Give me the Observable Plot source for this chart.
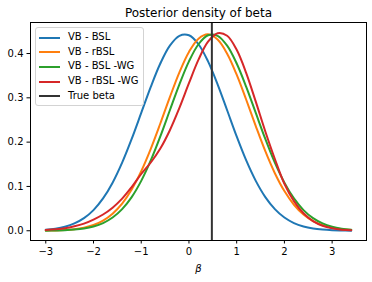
<!DOCTYPE html>
<html>
<head>
<meta charset="utf-8">
<script src="https://cdn.jsdelivr.net/npm/d3@7"></script>
<script src="https://cdn.jsdelivr.net/npm/@observablehq/plot@0.6"></script>
<style>
html,body{margin:0;padding:0;background:#fff;}
#chart{position:relative;width:372px;height:282px;overflow:hidden;font-family:"DejaVu Sans",sans-serif;}
#chart svg{display:block;}
.legend{position:absolute;left:35px;top:27px;width:109px;height:79px;box-sizing:border-box;border:1px solid #d3d3d3;border-radius:3px;background:rgba(255,255,255,0.8);font:10px "DejaVu Sans",sans-serif;color:#000;}
.swatch{position:absolute;left:3px;width:21px;height:2px;}
.lab{position:absolute;left:32px;white-space:nowrap;line-height:12px;height:12px;}
</style>
</head>
<body>
<div id="chart"></div>
<script>
// ---- data ----
const title = "Posterior density of beta";
const xLabel = "β";
const xTicks = [-3, -2, -1, 0, 1, 2, 3];
const yTicks = [0.0, 0.1, 0.2, 0.3, 0.4];
const trueBeta = 0.48;

const betaGrid = [-3.0,-2.8,-2.6,-2.4,-2.2,-2.0,-1.8,-1.6,-1.4,-1.2,-1.0,-0.8,-0.6,-0.4,-0.2,0.0,0.2,0.4,0.6,0.8,1.0,1.2,1.4,1.6,1.8,2.0,2.2,2.4,2.6,2.8,3.0,3.2,3.4];

const vbBSL = [0.0024,0.0048,0.0091,0.0165,0.0284,0.0466,0.0729,0.1085,0.1537,0.2072,0.2659,0.3248,0.3775,0.4178,0.4400,0.4411,0.4209,0.3822,0.3304,0.2719,0.2129,0.1587,0.1126,0.0760,0.0489,0.0299,0.0174,0.0097,0.0051,0.0026,0.0012,0.0006,0.0002];
const vbRBSL = [0.0004,0.0008,0.0018,0.0036,0.0071,0.0130,0.0230,0.0385,0.0613,0.0931,0.1345,0.1850,0.2421,0.3016,0.3576,0.4036,0.4335,0.4433,0.4314,0.3996,0.3523,0.2957,0.2362,0.1796,0.1299,0.0895,0.0587,0.0366,0.0217,0.0123,0.0066,0.0034,0.0017];
const vbBSLWG = [0.0002,0.0006,0.0012,0.0026,0.0051,0.0097,0.0174,0.0299,0.0489,0.0760,0.1126,0.1587,0.2129,0.2719,0.3304,0.3822,0.4209,0.4411,0.4400,0.4178,0.3775,0.3248,0.2659,0.2072,0.1537,0.1085,0.0729,0.0466,0.0284,0.0165,0.0091,0.0048,0.0024];
const vbRBSLWG = [0.0018,0.0032,0.0055,0.0100,0.0162,0.0253,0.0367,0.0521,0.0725,0.0987,0.1281,0.1540,0.1855,0.2269,0.2773,0.3330,0.3861,0.4266,0.4459,0.4402,0.4084,0.3559,0.2914,0.2241,0.1620,0.1060,0.0669,0.0395,0.0219,0.0114,0.0056,0.0025,0.0011];

const seriesNames = ["VB - BSL", "VB - rBSL", "VB - BSL -WG", "VB - rBSL -WG"];
const seriesValues = [vbBSL, vbRBSL, vbBSLWG, vbRBSLWG];
const seriesColors = ["#1f77b4", "#ff7f0e", "#2ca02c", "#d62728"];
const trueLabel = "True beta";
const trueColor = "#333333";

// ---- build table ----
const rows = [];
seriesNames.forEach((name, i) => {
  betaGrid.forEach((b, j) => rows.push({series: name, beta: b, density: seriesValues[i][j]}));
});

const fmtX = d => d < 0 ? "\u2212" + Math.abs(d) : String(d);

const svg = Plot.plot({
  width: 372,
  height: 282,
  marginLeft: 30,
  marginRight: 6,
  marginTop: 22,
  marginBottom: 42,
  style: {fontFamily: '"DejaVu Sans", sans-serif', fontSize: "10px", color: "#000", background: "#fff", overflow: "visible"},
  x: {domain: [-3.32, 3.72]},
  y: {domain: [-0.022, 0.470]},
  color: {domain: seriesNames, range: seriesColors},
  marks: [
    Plot.line(rows, {x: "beta", y: "density", z: "series", stroke: "series", strokeWidth: 2, curve: "catmull-rom"}),
    Plot.ruleX([trueBeta], {stroke: trueColor, strokeWidth: 2}),
    Plot.frame({stroke: "#000", strokeWidth: 1}),
    Plot.axisX({ticks: xTicks, tickSize: 3.5, tickPadding: 3.5, tickFormat: fmtX, label: null, fontSize: 10}),
    Plot.axisY({ticks: yTicks, tickSize: 3.5, tickPadding: 3.5, tickFormat: d3.format(".1f"), label: null, fontSize: 10}),
    Plot.text([title], {text: d => d, frameAnchor: "top", lineAnchor: "bottom", dy: -6, fontSize: 12, fill: "#000"}),
    Plot.text([xLabel], {text: d => d, frameAnchor: "bottom", lineAnchor: "middle", dy: 28, fontSize: 10, fontStyle: "italic", fill: "#000"})
  ]
});

const chart = document.getElementById("chart");
chart.appendChild(svg);

// ---- legend overlay ----
const legend = document.createElement("div");
legend.className = "legend";
const entries = seriesNames.map((n, i) => ({name: n, color: seriesColors[i]})).concat([{name: trueLabel, color: trueColor}]);
const rowCenters = [9.7, 24.3, 38.9, 53.5, 68.1];
entries.forEach((e, i) => {
  const sw = document.createElement("div");
  sw.className = "swatch";
  sw.style.top = (rowCenters[i] - 1) + "px";
  sw.style.background = e.color;
  legend.appendChild(sw);
  const lb = document.createElement("div");
  lb.className = "lab";
  lb.style.top = (rowCenters[i] - 6.5) + "px";
  lb.textContent = e.name;
  legend.appendChild(lb);
});
chart.appendChild(legend);
</script>
</body>
</html>
